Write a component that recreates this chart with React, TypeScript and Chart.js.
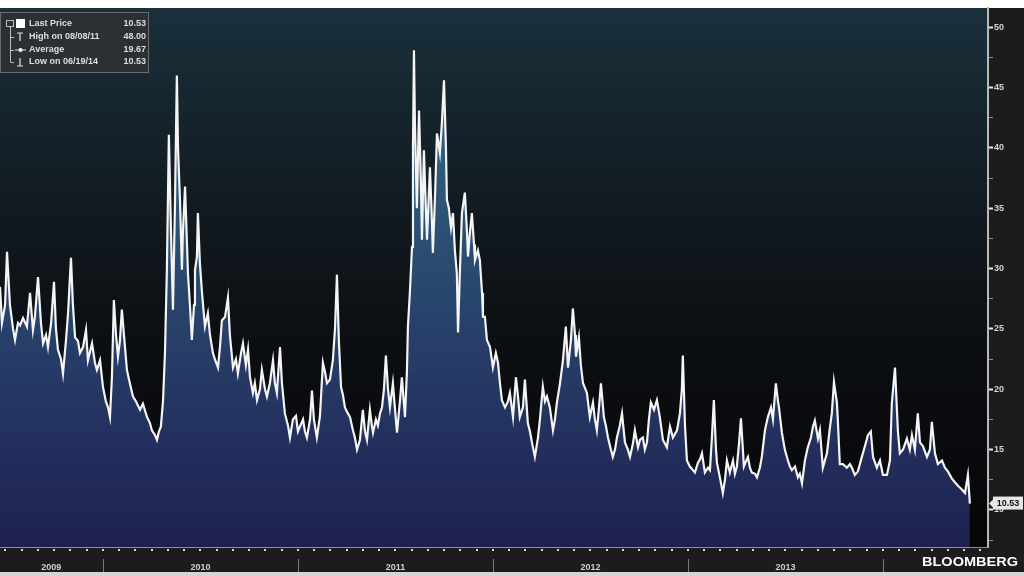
import { useEffect, useRef } from 'react';
import { Chart, registerables } from 'chart.js';
Chart.register(...registerables);

// decimal-year dates of the readings
const times: number[] = [
  2009.472, 2009.482, 2009.498, 2009.508, 2009.523, 2009.539, 2009.549, 2009.564, 2009.575, 2009.59,
  2009.61, 2009.626, 2009.641, 2009.651, 2009.667, 2009.682, 2009.693, 2009.708, 2009.718, 2009.734,
  2009.749, 2009.759, 2009.769, 2009.785, 2009.795, 2009.81, 2009.821, 2009.836, 2009.846, 2009.857,
  2009.872, 2009.882, 2009.898, 2009.913, 2009.923, 2009.944, 2009.959, 2009.969, 2009.985,
  2010.0, 2010.015, 2010.026, 2010.036, 2010.046, 2010.056, 2010.067, 2010.077, 2010.087, 2010.097,
  2010.113, 2010.123, 2010.138, 2010.154, 2010.169, 2010.19, 2010.205, 2010.226, 2010.241, 2010.251,
  2010.267, 2010.277, 2010.287, 2010.297, 2010.308, 2010.318, 2010.328, 2010.338, 2010.349, 2010.359,
  2010.369, 2010.379, 2010.385, 2010.395, 2010.405, 2010.41, 2010.421, 2010.431, 2010.436, 2010.446,
  2010.456, 2010.467, 2010.472, 2010.482, 2010.487, 2010.497, 2010.508, 2010.523, 2010.538, 2010.549,
  2010.564, 2010.574, 2010.59, 2010.6, 2010.61, 2010.626, 2010.641, 2010.651, 2010.667, 2010.682,
  2010.692, 2010.708, 2010.718, 2010.733, 2010.744, 2010.754, 2010.769, 2010.779, 2010.79, 2010.805,
  2010.815, 2010.831, 2010.841, 2010.856, 2010.872, 2010.882, 2010.892, 2010.908, 2010.918, 2010.933,
  2010.949, 2010.959, 2010.974, 2010.99,
  2011.0, 2011.01, 2011.026, 2011.036, 2011.046, 2011.062, 2011.072, 2011.082, 2011.097, 2011.113,
  2011.128, 2011.138, 2011.149, 2011.164, 2011.179, 2011.19, 2011.2, 2011.21, 2011.221, 2011.231,
  2011.241, 2011.256, 2011.267, 2011.282, 2011.292, 2011.303, 2011.318, 2011.328, 2011.333, 2011.344,
  2011.354, 2011.369, 2011.379, 2011.385, 2011.4, 2011.41, 2011.421, 2011.431, 2011.441, 2011.451,
  2011.462, 2011.472, 2011.487, 2011.497, 2011.508, 2011.523, 2011.533, 2011.549, 2011.559, 2011.564,
  2011.574, 2011.585, 2011.59, 2011.595, 2011.6, 2011.61, 2011.621, 2011.631, 2011.636, 2011.646,
  2011.656, 2011.662, 2011.677, 2011.687, 2011.692, 2011.703, 2011.713, 2011.728, 2011.738, 2011.749,
  2011.759, 2011.764, 2011.774, 2011.785, 2011.795, 2011.805, 2011.815, 2011.821, 2011.831, 2011.841,
  2011.856, 2011.867, 2011.872, 2011.882, 2011.892, 2011.903, 2011.908, 2011.923, 2011.933, 2011.944,
  2011.949, 2011.959, 2011.969, 2011.985,
  2012.0, 2012.015, 2012.026, 2012.036, 2012.046, 2012.062, 2012.077, 2012.087, 2012.103, 2012.118,
  2012.128, 2012.138, 2012.154, 2012.164, 2012.179, 2012.19, 2012.2, 2012.215, 2012.231, 2012.241,
  2012.256, 2012.267, 2012.277, 2012.292, 2012.308, 2012.318, 2012.328, 2012.344, 2012.359, 2012.374,
  2012.385, 2012.4, 2012.41, 2012.421, 2012.426, 2012.441, 2012.451, 2012.462, 2012.482, 2012.497,
  2012.513, 2012.523, 2012.533, 2012.544, 2012.554, 2012.569, 2012.579, 2012.59, 2012.605, 2012.615,
  2012.626, 2012.636, 2012.651, 2012.662, 2012.677, 2012.692, 2012.703, 2012.718, 2012.728, 2012.744,
  2012.754, 2012.769, 2012.779, 2012.79, 2012.8, 2012.81, 2012.826, 2012.841, 2012.856, 2012.872,
  2012.892, 2012.908, 2012.923, 2012.944, 2012.959, 2012.969, 2012.974, 2012.985, 2012.995,
  2013.01, 2013.026, 2013.036, 2013.051, 2013.062, 2013.072, 2013.087, 2013.103, 2013.113, 2013.123,
  2013.133, 2013.144, 2013.149, 2013.164, 2013.179, 2013.19, 2013.2, 2013.215, 2013.231, 2013.241,
  2013.251, 2013.262, 2013.272, 2013.282, 2013.287, 2013.297, 2013.308, 2013.318, 2013.328, 2013.344,
  2013.354, 2013.369, 2013.379, 2013.395, 2013.41, 2013.426, 2013.436, 2013.451, 2013.462, 2013.467,
  2013.482, 2013.497, 2013.513, 2013.523, 2013.533, 2013.549, 2013.564, 2013.574, 2013.585, 2013.6,
  2013.615, 2013.631, 2013.641, 2013.651, 2013.667, 2013.677, 2013.692, 2013.713, 2013.728, 2013.738,
  2013.749, 2013.764, 2013.769, 2013.779, 2013.795, 2013.815, 2013.831, 2013.841, 2013.856, 2013.872,
  2013.892, 2013.908, 2013.923, 2013.938, 2013.949, 2013.969, 2013.985,
  2014.0, 2014.021, 2014.036, 2014.046, 2014.062, 2014.077, 2014.087, 2014.103, 2014.123, 2014.138,
  2014.149, 2014.164, 2014.179, 2014.19, 2014.205, 2014.226, 2014.241, 2014.251, 2014.267, 2014.282,
  2014.303, 2014.318, 2014.333, 2014.354, 2014.369, 2014.385, 2014.405, 2014.421, 2014.436, 2014.446,
];

// VIX close readings
const vix: number[] = [
  28.5, 25.5, 27, 31.4, 27, 25, 24.1, 25.5, 25.3, 25.9,
  25.2, 28, 24.9, 26, 29.3, 25.5, 23.8, 24.5, 23.5, 25.5,
  28.9, 25, 23.3, 22.5, 21.3, 24, 26.3, 30.9, 27, 24.3,
  24, 23, 23.5, 24.9, 22.4, 23.8, 22.2, 21.6, 22.4,
  20.2, 19, 18.5, 17.7, 21, 27.4, 24.5, 22.7, 24, 26.6,
  23.5, 21.6, 20.5, 19.4, 19, 18.3, 18.8, 17.7, 17.2, 16.6,
  16.2, 15.8, 16.5, 16.9, 19, 23, 30, 41.1, 33, 26.6,
  35, 46, 40, 35.7, 29.9, 33, 36.8, 32, 29.6, 27,
  24.1, 27, 29.9, 31, 34.6, 30.5, 28, 25.2, 26.3, 24.5,
  23, 22.5, 21.8, 23.5, 25.7, 26, 27.6, 24.5, 21.8, 22.5,
  21.3, 23, 23.8, 22, 23.3, 21, 19.7, 20.5, 19.1, 20,
  21.6, 20, 19.4, 20.5, 22.4, 20.5, 19.7, 23.5, 20.5, 18,
  17, 16, 17.5, 17.8,
  16.5, 16.9, 17.5, 16.5, 16, 17.5, 19.9, 17.5, 16, 17.8,
  22.2, 21.5, 20.5, 20.8, 22.4, 25, 29.5, 24, 20.2, 19.5,
  18.5, 18, 17.7, 16.6, 16, 15, 15.8, 17.5, 18.3, 16.5,
  15.8, 18.3, 17, 16.4, 17.5, 17, 18, 18.5, 20, 22.8,
  20, 18.5, 20.5, 18.5, 16.4, 19, 21, 17.7, 21.5, 25.2,
  28, 31.8, 40, 48.1, 42, 35, 43.1, 37, 32.4, 39.8,
  35, 32.4, 38.4, 34, 31.3, 36, 41.2, 39.6, 42, 45.6,
  40, 35.7, 35, 33.4, 34.6, 31.5, 29.6, 24.7, 30, 34.6,
  36.3, 33, 31, 33, 34.6, 32, 30.7, 31.5, 30.7, 28,
  26, 26, 24.1, 23.5,
  21.8, 23, 22.2, 20.5, 19.1, 18.5, 19, 19.7, 17.7, 21,
  19.5, 17.7, 18.5, 20.8, 17.2, 16.5, 15.6, 14.4, 16, 17.5,
  20.2, 19, 19.4, 18.5, 16.6, 17.5, 18.9, 20.5, 22.4, 25.2,
  21.8, 24.1, 26.7, 24.5, 22.7, 24.3, 22, 20.5, 19.7, 17.7,
  18.9, 17.5, 16.6, 18.5, 20.5, 17.7, 17, 16, 15, 14.4,
  15, 16, 17, 18, 15.6, 15, 14.4, 15.5, 16.6, 15.2,
  15.8, 16, 15, 15.6, 17.5, 18.9, 18.3, 19.1, 17.7, 15.8,
  15.2, 16.9, 16, 16.6, 18, 20, 22.8, 17, 14.1,
  13.6, 13.3, 13.1, 13.9, 14.2, 14.7, 13.1, 13.5, 13.3, 16,
  19.1, 15, 13.9, 12.7, 11.4, 12.5, 14.1, 13.1, 14.1, 13,
  13.6, 15.5, 17.6, 15, 13.6, 14, 14.4, 13.5, 13.1, 13,
  12.7, 13.5, 14.4, 16.6, 17.7, 18.5, 17.5, 20.5, 19, 18.5,
  16.4, 15, 14.1, 13.6, 13.3, 13.6, 12.7, 13, 12.2, 14.1,
  15.2, 16, 16.9, 17.4, 15.9, 16.6, 13.5, 14.7, 16.8, 18,
  20.6, 18.9, 17.4, 13.8, 13.8, 13.5, 13.8, 13.5, 12.9, 13.2,
  14.4, 15.3, 16.2, 16.5, 14.4, 13.5, 14.1,
  12.9, 12.9, 14.1, 18.9, 21.8, 16.5, 14.7, 15, 15.9, 15,
  16.2, 15, 18, 15.6, 15.3, 14.4, 15, 17.3, 14.7, 13.8,
  14.1, 13.5, 13.2, 12.6, 12.3, 12, 11.7, 11.4, 12.9, 10.53,
];

const yearLabels: string[] = ['2009', '2010', '2011', '2012', '2013'];
const yearLabelPositions: number[] = [2009.735, 2010.5, 2011.5, 2012.5, 2013.5];
const yearBoundaries: number[] = [2010, 2011, 2012, 2013, 2014];
const yTickValues: number[] = [7.5, 10, 12.5, 15, 17.5, 20, 22.5, 25, 27.5, 30, 32.5, 35, 37.5, 40, 42.5, 45, 47.5, 50];
const legendLabels: string[] = ['Last Price', 'High on 08/08/11', 'Average', 'Low on 06/19/14'];
const legendValues: string[] = ['10.53', '48.00', '19.67', '10.53'];
const lastPrice = 10.53;
const xMin = 2009.472;
const xMax = 2014.539;
const yMin = 6.93;
const yMax = 51.6;

const FONT = '"Liberation Sans", Arial, sans-serif';

export default function App() {
  const ref = useRef<HTMLCanvasElement>(null);

  useEffect(() => {
    document.body.style.margin = '0';
    document.body.style.background = '#ffffff';
    const canvas = ref.current;
    if (!canvas) return;

    const decor = {
      id: 'bloombergDecor',
      beforeDraw(chart: any) {
        const { ctx, chartArea: a, width, height } = chart;
        ctx.save();
        // frame
        ctx.fillStyle = '#1d1b1b';
        ctx.fillRect(0, 8, width, height - 12);
        // bottom light strip
        ctx.fillStyle = '#d4d4d4';
        ctx.fillRect(0, height - 4, width, 4);
        // plot background
        const g = ctx.createLinearGradient(0, a.top, 0, a.bottom);
        g.addColorStop(0, '#1a303b');
        g.addColorStop(0.3, '#131e25');
        g.addColorStop(0.6, '#0c0f13');
        g.addColorStop(1, '#060608');
        ctx.fillStyle = g;
        ctx.fillRect(a.left, a.top, a.right - a.left, a.bottom - a.top);
        ctx.restore();
      },
      afterDraw(chart: any) {
        const { ctx, chartArea: a, scales } = chart;
        const xs = scales.x;
        const ys = scales.y;
        ctx.save();
        // plot bottom border
        ctx.strokeStyle = '#8e8e8e';
        ctx.lineWidth = 1;
        ctx.beginPath();
        ctx.moveTo(a.left, a.bottom + 0.5);
        ctx.lineTo(a.right, a.bottom + 0.5);
        ctx.stroke();
        // monthly dots
        ctx.fillStyle = '#d8d8d8';
        for (let y = 2009; y <= 2014; y++) {
          for (let m = 0; m < 12; m++) {
            const t = y + m / 12;
            if (t < xMin || t > xMax) continue;
            const px = xs.getPixelForValue(t);
            ctx.fillRect(Math.round(px) - 1, a.bottom + 2, 2, 2);
          }
        }
        // year separators
        ctx.strokeStyle = '#7a7a7a';
        ctx.lineWidth = 1;
        yearBoundaries.forEach((t) => {
          const px = Math.round(xs.getPixelForValue(t)) + 0.5;
          ctx.beginPath();
          ctx.moveTo(px, a.bottom + 12);
          ctx.lineTo(px, a.bottom + 25);
          ctx.stroke();
        });

        // legend box
        ctx.fillStyle = 'rgba(46,48,52,0.93)';
        ctx.fillRect(0, 12, 149, 61);
        ctx.strokeStyle = '#6c6c6c';
        ctx.strokeRect(0.5, 12.5, 148, 60);
        const rows = [24, 37, 50, 62];
        // tree lines
        ctx.strokeStyle = '#bdbdbd';
        ctx.beginPath();
        ctx.moveTo(10.5, 26);
        ctx.lineTo(10.5, rows[3]);
        rows.slice(1).forEach((ry) => {
          ctx.moveTo(10.5, ry + 0.5);
          ctx.lineTo(14, ry + 0.5);
        });
        ctx.stroke();
        ctx.strokeRect(6.5, 20.5, 7, 6);
        // icons
        ctx.fillStyle = '#ffffff';
        ctx.fillRect(16, 19, 9, 9);
        ctx.strokeStyle = '#e0e0e0';
        ctx.lineWidth = 1.2;
        ctx.beginPath();
        // High: T
        ctx.moveTo(17, rows[1] - 4);
        ctx.lineTo(23, rows[1] - 4);
        ctx.moveTo(20, rows[1] - 4);
        ctx.lineTo(20, rows[1] + 4);
        // Average: -•-
        ctx.moveTo(15, rows[2]);
        ctx.lineTo(26, rows[2]);
        // Low: ⊥
        ctx.moveTo(20, rows[3] - 4);
        ctx.lineTo(20, rows[3] + 4);
        ctx.moveTo(17, rows[3] + 4);
        ctx.lineTo(23, rows[3] + 4);
        ctx.stroke();
        ctx.beginPath();
        ctx.arc(20.5, rows[2], 2, 0, Math.PI * 2);
        ctx.fill();
        // legend text
        ctx.font = `bold 9px ${FONT}`;
        ctx.fillStyle = '#dedede';
        ctx.textBaseline = 'middle';
        legendLabels.forEach((lab, i) => {
          ctx.textAlign = 'left';
          ctx.fillText(lab, 29, rows[i]);
          ctx.textAlign = 'right';
          ctx.fillText(legendValues[i], 146, rows[i]);
        });

        // last price tag
        const py = ys.getPixelForValue(lastPrice);
        ctx.fillStyle = '#e6e6e6';
        ctx.beginPath();
        ctx.moveTo(a.right + 1, py);
        ctx.lineTo(a.right + 5, py - 4);
        ctx.lineTo(a.right + 5, py + 4);
        ctx.closePath();
        ctx.fill();
        ctx.fillRect(a.right + 5, py - 7, 30, 13);
        ctx.fillStyle = '#111111';
        ctx.font = `bold 9px ${FONT}`;
        ctx.textAlign = 'center';
        ctx.textBaseline = 'middle';
        ctx.fillText(lastPrice.toFixed(2), a.right + 20, py);

        // BLOOMBERG logo
        ctx.font = `bold 13px ${FONT}`;
        const w = ctx.measureText('BLOOMBERG').width;
        ctx.translate(922, 566);
        ctx.scale(96 / w, 1);
        ctx.fillStyle = '#ffffff';
        ctx.textAlign = 'left';
        ctx.textBaseline = 'alphabetic';
        ctx.fillText('BLOOMBERG', 0, 0);
        ctx.restore();
      },
    };

    const chart = new Chart(canvas, {
      type: 'line',
      data: {
        datasets: [
          {
            label: 'Last Price',
            data: times.map((t, i) => ({ x: t, y: vix[i] })),
            borderColor: '#f4f4f4',
            borderWidth: 2.2,
            pointRadius: 0,
            tension: 0,
            fill: 'start',
            backgroundColor: (c: any) => {
              const ch = c.chart;
              const a = ch.chartArea;
              if (!a) return '#2a4a6e';
              const g = ch.ctx.createLinearGradient(0, a.top, 0, a.bottom);
              g.addColorStop(0, '#3d7288');
              g.addColorStop(0.3, '#2f5a78');
              g.addColorStop(0.6, '#27406a');
              g.addColorStop(0.85, '#222c5a');
              g.addColorStop(1, '#1e2150');
              return g;
            },
          },
        ],
      },
      options: {
        responsive: false,
        animation: false,
        layout: { padding: { top: 8, bottom: 4, left: 0, right: 0 } },
        plugins: { legend: { display: false }, tooltip: { enabled: false } },
        scales: {
          x: {
            type: 'linear',
            position: 'bottom',
            min: xMin,
            max: xMax,
            afterFit: (s: any) => {
              s.height = 25;
            },
            afterBuildTicks: (s: any) => {
              s.ticks = yearLabelPositions.map((v) => ({ value: v }));
            },
            ticks: {
              autoSkip: false,
              maxRotation: 0,
              padding: 15,
              color: '#cfcfcf',
              font: { size: 9, weight: 'bold', family: FONT },
              callback: (_v: any, i: number) => yearLabels[i],
            },
            grid: { display: false, drawTicks: false },
            border: { display: false },
          },
          y: {
            type: 'linear',
            position: 'right',
            min: yMin,
            max: yMax,
            afterFit: (s: any) => {
              s.width = 36;
            },
            afterBuildTicks: (s: any) => {
              s.ticks = yTickValues.map((v) => ({ value: v }));
            },
            ticks: {
              padding: 1,
              color: '#d4d4d4',
              font: { size: 9, weight: 'bold', family: FONT },
              callback: (v: any) => (Number(v) % 5 === 0 ? String(v) : ''),
            },
            grid: {
              drawOnChartArea: false,
              tickLength: 5,
              tickColor: (c: any) => (c.tick && c.tick.value % 5 === 0 ? '#e6e6e6' : '#8a8a8a'),
              tickWidth: (c: any) => (c.tick && c.tick.value % 5 === 0 ? 2 : 1),
            },
            border: { color: '#b9b9b9', width: 2 },
          },
        },
      },
      plugins: [decor],
    } as any);

    return () => chart.destroy();
  }, []);

  return <canvas ref={ref} width={1024} height={576} style={{ display: 'block', width: 1024, height: 576 }} />;
}
